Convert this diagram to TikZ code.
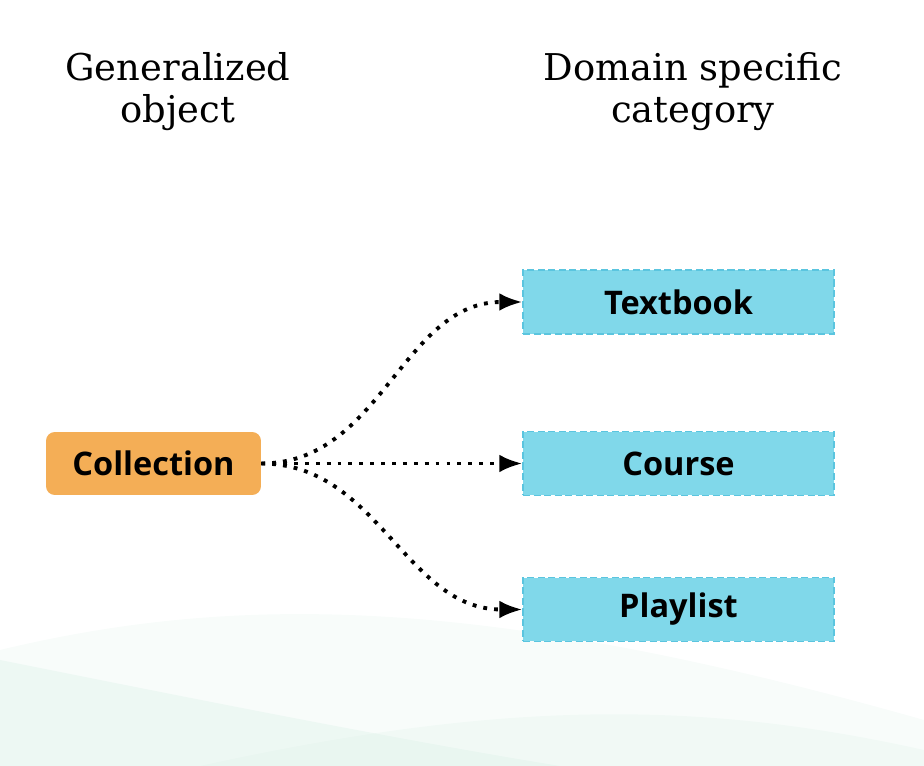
\documentclass[tikz,border=0pt]{standalone}
\usepackage{fontspec}
\setmainfont{DejaVu Serif}
\newfontfamily\boxfont{Open Sans}
\usetikzlibrary{positioning,arrows.meta}
\definecolor{collorange}{HTML}{F4AE56}
\definecolor{catblue}{HTML}{80D8EA}
\definecolor{catedge}{HTML}{5BC5DF}
\definecolor{wavegreen}{HTML}{D6EEE3}

\begin{document}
\begin{tikzpicture}[
    x=0.02cm, y=-0.02cm,
    head/.style={font=\fontsize{21}{24}\selectfont, align=center},
    obj/.style={fill=collorange, rounded corners=5pt, minimum width=4.3cm, minimum height=1.26cm, font=\boxfont\bfseries\fontsize{18.5}{21}\selectfont},
    cat/.style={fill=catblue, draw=catedge, dashed, dash pattern=on 4pt off 2pt, line width=0.8pt, minimum width=6.22cm, minimum height=1.28cm, font=\boxfont\bfseries\fontsize{18.5}{21}\selectfont},
    arr/.style={-{Latex[length=13pt, width=10pt]}, line width=2.2pt, dash pattern=on 2.2pt off 4pt}
]
\useasboundingbox (0,0) rectangle (924,766);

% Background waves
\fill[wavegreen, opacity=0.18] (0,650) .. controls (250,590) and (500,600) .. (924,720) -- (924,766) -- (0,766) -- cycle;
\fill[wavegreen, opacity=0.3] (0,660) .. controls (200,700) and (400,740) .. (560,766) -- (0,766) -- cycle;
\fill[wavegreen, opacity=0.2] (200,766) .. controls (500,700) and (700,700) .. (924,750) -- (924,766) -- cycle;

% Headings
\node[head] (hgen) at (178,92) {Generalized\\object};
\node[head] (hdom) at (693,92) {Domain specific\\category};

% Generalized object
\node[obj] (coll) at (153.5,463.5) {Collection};

% Categories
\node[cat] (text) at (678.5,302) {Textbook};
\node[cat] (course) at (678.5,463.5) {Course};
\node[cat] (play) at (678.5,609.5) {Playlist};

% Arrows
\draw[arr] (coll.east) to[out=0, in=180] (text.west);
\draw[arr] (coll.east) -- (course.west);
\draw[arr] (coll.east) to[out=0, in=180] (play.west);

\end{tikzpicture}
\end{document}
